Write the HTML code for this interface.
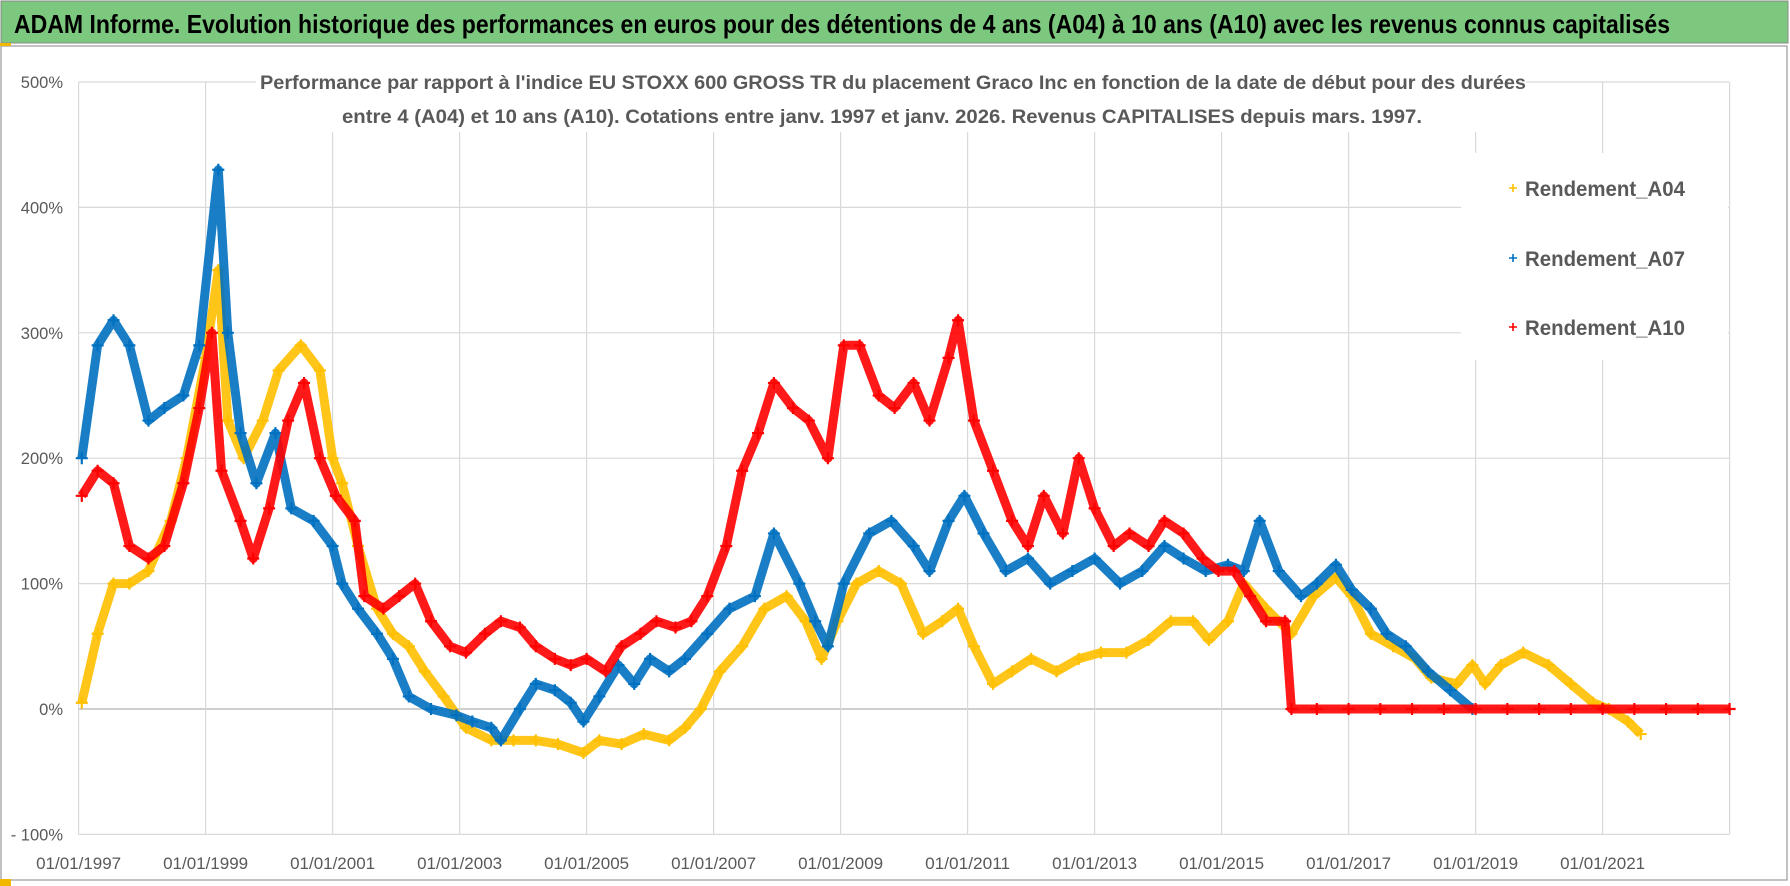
<!DOCTYPE html>
<html><head><meta charset="utf-8"><style>
html,body{margin:0;padding:0;background:#fff;}
svg{display:block;font-family:"Liberation Sans Narrow","Liberation Sans",sans-serif;}
</style></head><body>
<svg id="chart" width="1790" height="886" viewBox="0 0 1790 886">
<rect x="0" y="0" width="1790" height="886" fill="#fff"/>
<rect x="1" y="1" width="1787" height="42" fill="#7dc87f" stroke="#888" stroke-width="1"/>
<text x="14" y="33" font-size="26" font-weight="bold" fill="#000" textLength="1656" lengthAdjust="spacingAndGlyphs">ADAM Informe. Evolution historique des performances en euros pour des détentions de 4 ans (A04) à 10 ans (A10) avec les revenus connus capitalisés</text>
<rect x="1" y="46" width="1786" height="834" fill="none" stroke="#999" stroke-width="1.2"/>
<rect x="0" y="43" width="11" height="3" fill="#f2b800"/>
<rect x="0" y="879" width="11" height="7" fill="#f2b800"/>
<g id="grid"></g>
<g id="series"></g>
<g id="axes"></g>
<rect x="1461" y="153" width="267" height="207" fill="#fff"/>
<rect x="256" y="64" width="1270" height="68" fill="#fff"/>
<text x="260" y="89" font-size="19.5" font-weight="bold" fill="#595959" textLength="1266" lengthAdjust="spacingAndGlyphs">Performance par rapport à l'indice EU STOXX 600 GROSS TR  du placement Graco Inc en fonction de la date de début pour des durées</text>
<text x="342" y="123" font-size="19.5" font-weight="bold" fill="#595959" textLength="1080" lengthAdjust="spacingAndGlyphs">entre 4 (A04) et 10 ans (A10). Cotations entre janv. 1997 et janv. 2026. Revenus CAPITALISES depuis mars. 1997.</text>
<g>
<g><path d="M1509 188h8M1513 184v8" stroke="#ffc000" stroke-width="1.6"/><text x="1525" y="196" font-size="21" font-weight="bold" fill="#595959" textLength="160" lengthAdjust="spacingAndGlyphs">Rendement_A04</text></g>
<g><path d="M1509 258h8M1513 254v8" stroke="#0070c0" stroke-width="1.6"/><text x="1525" y="266" font-size="21" font-weight="bold" fill="#595959" textLength="160" lengthAdjust="spacingAndGlyphs">Rendement_A07</text></g>
<g><path d="M1509 327h8M1513 323v8" stroke="#ff0000" stroke-width="1.6"/><text x="1525" y="335" font-size="21" font-weight="bold" fill="#595959" textLength="160" lengthAdjust="spacingAndGlyphs">Rendement_A10</text></g>
</g>
</svg>
<script>
const yTicks=[-100,0,100,200,300,400,500];
const yTickLabels=["- 100%","0%","100%","200%","300%","400%","500%"];
const xTicks=[1997,1999,2001,2003,2005,2007,2009,2011,2013,2015,2017,2019,2021,2023];
const xTickLabels=["01/01/1997","01/01/1999","01/01/2001","01/01/2003","01/01/2005","01/01/2007","01/01/2009","01/01/2011","01/01/2013","01/01/2015","01/01/2017","01/01/2019","01/01/2021",""];
const a04Dates=[1997.05,1997.3,1997.55,1997.8,1998.1,1998.45,1998.7,1999.0,1999.2,1999.35,1999.6,1999.9,2000.15,2000.5,2000.8,2001.0,2001.15,2001.4,2001.7,2001.95,2002.2,2002.45,2002.75,2003.1,2003.5,2003.85,2004.2,2004.55,2004.95,2005.2,2005.55,2005.9,2006.3,2006.55,2006.8,2007.1,2007.45,2007.8,2008.15,2008.45,2008.7,2008.95,2009.25,2009.6,2009.95,2010.3,2010.6,2010.85,2011.1,2011.4,2011.7,2012.0,2012.4,2012.75,2013.1,2013.5,2013.85,2014.2,2014.55,2014.8,2015.1,2015.35,2015.7,2016.1,2016.45,2016.8,2017.05,2017.35,2017.7,2018.05,2018.3,2018.7,2018.95,2019.15,2019.4,2019.75,2020.15,2020.5,2020.85,2021.1,2021.4,2021.6];
const a04Values=[5,60,100,100,110,150,200,280,350,230,200,230,270,290,270,200,180,130,80,60,50,30,10,-15,-25,-25,-25,-28,-35,-25,-28,-20,-25,-15,0,30,50,80,90,70,40,70,100,110,100,60,70,80,50,20,30,40,30,40,45,45,55,70,70,55,70,100,80,60,90,105,90,60,50,40,25,20,35,20,35,45,35,20,5,0,-10,-20];
const a07Dates=[1997.05,1997.3,1997.55,1997.8,1998.1,1998.35,1998.65,1998.9,1999.2,1999.35,1999.55,1999.8,2000.1,2000.35,2000.7,2001.0,2001.15,2001.4,2001.7,2001.95,2002.2,2002.55,2002.95,2003.2,2003.5,2003.65,2003.95,2004.2,2004.5,2004.75,2004.95,2005.2,2005.5,2005.75,2006.0,2006.3,2006.55,2006.9,2007.25,2007.65,2007.95,2008.35,2008.6,2008.8,2009.05,2009.45,2009.8,2010.15,2010.4,2010.7,2010.95,2011.25,2011.6,2011.95,2012.3,2012.65,2013.0,2013.4,2013.75,2014.1,2014.4,2014.75,2015.1,2015.35,2015.6,2015.9,2016.25,2016.5,2016.8,2017.05,2017.35,2017.6,2017.9,2018.25,2018.6,2018.95];
const a07Values=[200,290,310,290,230,240,250,290,430,300,220,180,220,160,150,130,100,80,60,40,10,0,-5,-10,-15,-25,0,20,15,5,-10,10,35,20,40,30,40,60,80,90,140,100,70,50,100,140,150,130,110,150,170,140,110,120,100,110,120,100,110,130,120,110,115,110,150,110,90,100,115,95,80,60,50,30,15,0];
const a10Dates=[1997.05,1997.3,1997.55,1997.8,1998.1,1998.35,1998.65,1998.9,1999.1,1999.25,1999.55,1999.75,2000.0,2000.3,2000.55,2000.8,2001.05,2001.35,2001.5,2001.8,2002.05,2002.3,2002.55,2002.85,2003.1,2003.4,2003.65,2003.95,2004.2,2004.5,2004.75,2005.0,2005.3,2005.55,2005.85,2006.1,2006.4,2006.65,2006.9,2007.2,2007.45,2007.7,2007.95,2008.25,2008.5,2008.8,2009.05,2009.3,2009.6,2009.85,2010.15,2010.4,2010.7,2010.85,2011.1,2011.4,2011.7,2011.95,2012.2,2012.5,2012.75,2013.0,2013.3,2013.55,2013.85,2014.1,2014.4,2014.7,2014.95,2015.2,2015.45,2015.7,2016.0,2016.1,2016.5,2017.0,2017.5,2018.0,2018.5,2019.0,2019.5,2020.0,2020.5,2021.0,2021.5,2022.0,2022.5,2023.0];
const a10Values=[170,190,180,130,120,130,180,240,300,190,150,120,160,230,260,200,170,150,90,80,90,100,70,50,45,60,70,65,50,40,35,40,30,50,60,70,65,70,90,130,190,220,260,240,230,200,290,290,250,240,260,230,280,310,230,190,150,130,170,140,200,160,130,140,130,150,140,120,110,110,90,70,70,0,0,0,0,0,0,0,0,0,0,0,0,0,0,0];
const NS="http://www.w3.org/2000/svg";
const X0=78.6,PXY=63.5,Y0=709,PXP=1.254;
function xScale(yr){return X0+(yr-1997)*PXY;}
function yScale(v){return Y0-v*PXP;}
function mk(tag,attrs,parent){const e=document.createElementNS(NS,tag);for(const k in attrs)e.setAttribute(k,attrs[k]);parent.appendChild(e);return e;}
const grid=document.getElementById('grid'),axes=document.getElementById('axes'),ser=document.getElementById('series');
yTicks.forEach((t,i)=>{
  const l=mk('line',{x1:X0,x2:1729,y1:yScale(t),y2:yScale(t),stroke:t===0?'#bfbfbf':'#d9d9d9','stroke-width':t===0?1.6:1.2},grid);
  
  
  const tx=mk('text',{x:63,y:yScale(t)+6,'font-size':16.5,fill:'#595959','text-anchor':'end'},axes);
  tx.textContent=yTickLabels[i];
  
  
});
xTicks.forEach((t,i)=>{
  const l=mk('line',{x1:xScale(t),x2:xScale(t),y1:yScale(500),y2:yScale(-100),stroke:'#d9d9d9','stroke-width':1.2},grid);
  
  
  if(xTickLabels[i]){
    const tx=mk('text',{x:xScale(t),y:869,'font-size':17,fill:'#595959','text-anchor':'middle',textLength:85,lengthAdjust:'spacingAndGlyphs'},axes);
    tx.textContent=xTickLabels[i];
    
    
  }
});
function drawSeries(dates,vals,color,name){
  const g=mk('g',{},ser);
  
  
  const pts=dates.map((d,i)=>xScale(d).toFixed(1)+','+yScale(vals[i]).toFixed(1)).join(' ');
  const pl=mk('polyline',{points:pts,fill:'none',stroke:color,'stroke-width':9,'stroke-linejoin':'round','stroke-opacity':0.9},g);
  
  
  dates.forEach((d,i)=>{
    const x=xScale(d),y=yScale(vals[i]);
    const p=mk('path',{d:`M${x-6} ${y}h12M${x} ${y-6}v12`,stroke:color,'stroke-width':2.2},g);
    
    
  });
}
drawSeries(a04Dates,a04Values,'#ffc000','series-a04');
drawSeries(a07Dates,a07Values,'#0070c0','series-a07');
drawSeries(a10Dates,a10Values,'#ff0000','series-a10');
</script>
</body></html>
